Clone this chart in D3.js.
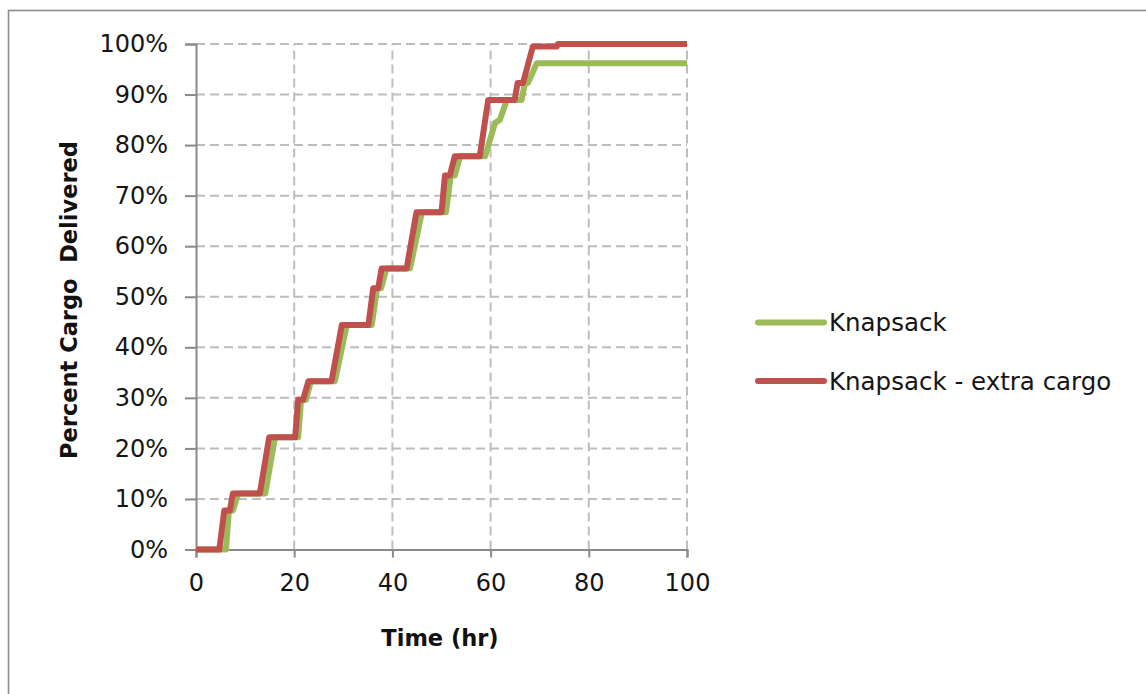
<!DOCTYPE html>
<html>
<head>
<meta charset="utf-8">
<script src="https://cdn.jsdelivr.net/npm/d3@7"></script>
<style>
  html, body { margin: 0; padding: 0; background: #fff; }
  svg { display: block; }
</style>
</head>
<body>
<svg id="chart" width="1146" height="694"></svg>
<script>
// Cumulative share of cargo delivered over time (hours), as step-like vertex lists.
const knapsackTime = [0, 6.1, 6.7, 7.5, 8.6, 14.1, 16.1, 20.8, 21.4, 22.4, 23.4, 28.3, 30.7, 35.8, 36.9, 37.7, 38.8, 43.6, 46.0, 50.9, 51.9, 52.7, 53.8, 58.9, 60.9, 61.9, 63.3, 66.3, 67.0, 67.6, 69.4, 100];
const knapsackPct  = [0, 0, 7.7, 7.7, 11.1, 11.1, 22.2, 22.2, 29.6, 29.6, 33.3, 33.3, 44.4, 44.4, 51.7, 51.7, 55.6, 55.6, 66.7, 66.7, 74.0, 74.0, 77.8, 77.8, 84.4, 85.0, 88.9, 88.9, 92.3, 92.3, 96.2, 96.2];

const extraTime = [0, 4.75, 5.76, 6.9, 7.5, 13.0, 14.9, 20.2, 20.8, 21.8, 22.9, 27.6, 29.7, 35.1, 36.1, 37.1, 37.8, 42.9, 44.9, 50.0, 50.7, 51.7, 52.7, 57.8, 59.5, 64.9, 65.5, 66.6, 68.6, 73.5, 73.7, 100];
const extraPct  = [0, 0, 7.7, 7.7, 11.1, 11.1, 22.2, 22.2, 29.6, 29.6, 33.3, 33.3, 44.4, 44.4, 51.7, 51.7, 55.6, 55.6, 66.7, 66.7, 74.0, 74.0, 77.8, 77.8, 88.9, 88.9, 92.3, 92.3, 99.5, 99.5, 100, 100];

const seriesNames = ["Knapsack", "Knapsack - extra cargo"];
const seriesColors = ["#9bbb59", "#c0504d"];
const xTicks = [0, 20, 40, 60, 80, 100];
const yTicks = [0, 10, 20, 30, 40, 50, 60, 70, 80, 90, 100];
const xTitle = "Time (hr)";
const yTitle = "Percent Cargo  Delivered";

const svg = d3.select("#chart");
const font = "'DejaVu Sans', sans-serif";

// Outer chart frame (runs off the right and bottom edges)
svg.append("rect")
  .attr("x", 8.5).attr("y", 10.5)
  .attr("width", 1300).attr("height", 900)
  .attr("fill", "#fff")
  .attr("stroke", "#8c8c8c").attr("stroke-width", 1.6);

const x = d3.scaleLinear().domain([0, 100]).range([196, 687]);
const y = d3.scaleLinear().domain([0, 100]).range([549.5, 44]);

// Dashed gridlines
const grid = svg.append("g").attr("stroke", "#bdbdbd").attr("stroke-width", 2)
  .attr("stroke-dasharray", "9,5");
grid.selectAll("line.h").data(yTicks.filter(d => d > 0)).join("line")
  .attr("class", "h")
  .attr("x1", x(0)).attr("x2", x(100))
  .attr("y1", d => y(d)).attr("y2", d => y(d));
grid.selectAll("line.v").data(xTicks.filter(d => d > 0)).join("line")
  .attr("class", "v")
  .attr("y1", y(0)).attr("y2", y(100))
  .attr("x1", d => x(d)).attr("x2", d => x(d));

// Axes
const xAxis = d3.axisBottom(x).tickValues(xTicks).tickSize(8).tickPadding(16)
  .tickFormat(d3.format("d"));
const yAxis = d3.axisLeft(y).tickValues(yTicks).tickSize(11).tickPadding(18)
  .tickFormat(d => d + "%");

const gx = svg.append("g").attr("transform", `translate(0,${y(0)})`).call(xAxis);
const gy = svg.append("g").attr("transform", `translate(${x(0)},0)`).call(yAxis);
[gx, gy].forEach(g => {
  g.select(".domain").attr("stroke", "#8a8a8a").attr("stroke-width", 2);
  g.selectAll(".tick line").attr("stroke", "#8a8a8a").attr("stroke-width", 2);
  g.selectAll(".tick text").attr("font-family", font).attr("font-size", 24)
    .attr("fill", "#151515");
});
gy.selectAll(".tick text").attr("dx", 1);
gx.selectAll(".tick text").attr("dy", "0.72em");

// Axis titles
svg.append("text")
  .attr("x", 440).attr("y", 646)
  .attr("text-anchor", "middle")
  .attr("font-family", font).attr("font-weight", "bold").attr("font-size", 22.5)
  .attr("fill", "#111")
  .text(xTitle);
svg.append("text")
  .attr("transform", "translate(77,300) rotate(-90)")
  .attr("text-anchor", "middle")
  .attr("font-family", font).attr("font-weight", "bold").attr("font-size", 22.5)
  .attr("fill", "#111")
  .attr("xml:space", "preserve")
  .style("white-space", "pre")
  .text(yTitle);

// Series lines
const series = [
  { name: seriesNames[0], color: seriesColors[0], pts: knapsackTime.map((t, i) => [t, knapsackPct[i]]) },
  { name: seriesNames[1], color: seriesColors[1], pts: extraTime.map((t, i) => [t, extraPct[i]]) }
];
const line = d3.line().x(d => x(d[0])).y(d => y(d[1]));
svg.append("g").selectAll("path").data(series).join("path")
  .attr("d", d => line(d.pts))
  .attr("fill", "none")
  .attr("stroke", d => d.color)
  .attr("stroke-width", 6)
  .attr("stroke-linejoin", "round");

// Legend
const legend = svg.append("g");
const ly = [322.5, 381];
series.forEach((s, i) => {
  legend.append("line")
    .attr("x1", 758).attr("x2", 824)
    .attr("y1", ly[i]).attr("y2", ly[i])
    .attr("stroke", s.color).attr("stroke-width", 6).attr("stroke-linecap", "round");
  legend.append("text")
    .attr("x", 829).attr("y", ly[i])
    .attr("dy", "0.36em")
    .attr("font-family", font).attr("font-size", 24.5)
    .attr("fill", "#151515")
    .text(s.name);
});
</script>
</body>
</html>
